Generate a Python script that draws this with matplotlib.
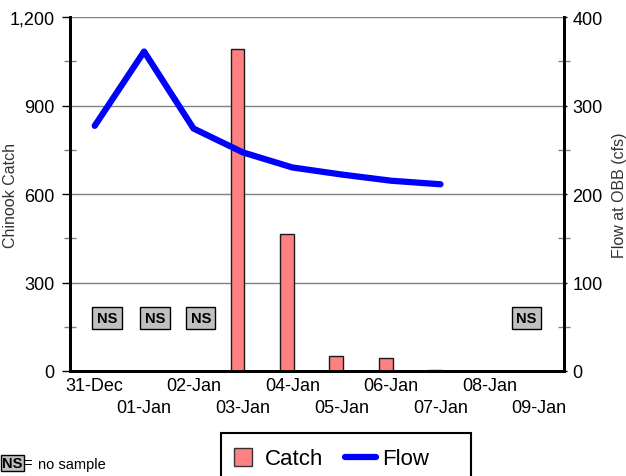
import matplotlib
matplotlib.use("Agg")
import matplotlib.pyplot as plt
import numpy as np
from matplotlib.lines import Line2D
from matplotlib.patches import Rectangle
from matplotlib.ticker import FuncFormatter, MultipleLocator, FixedLocator

plt.rcParams["font.family"] = ["Liberation Sans", "DejaVu Sans"]

## Data
dates = ["31-Dec", "01-Jan", "02-Jan", "03-Jan", "04-Jan",
         "05-Jan", "06-Jan", "07-Jan", "08-Jan", "09-Jan"]
catch = [np.nan, np.nan, np.nan, 1090, 465, 50, 43, 3, 0, np.nan]
flow = [277, 361, 274, 247, 230, 222, 215, 211, np.nan, np.nan]

# days with no sample, and a small nudge so the boxes sit where they do in the original
ns_days = [0, 1, 2, 9]
ns_nudge = [0.25, 0.22, 0.15, -0.26]

x = np.arange(len(dates))

fig = plt.figure(figsize=(6.26, 4.77), dpi=100)
ax = fig.add_axes([70 / 626, 1 - 372 / 477, 494 / 626, 354 / 477])
ax2 = ax.twinx()

# bars (catch)
ax.bar(x - 0.11, catch, width=0.28, color="#FF8080", edgecolor="#1a1a1a",
       linewidth=1, zorder=3)
ax.set_xlim(-0.5, len(dates) - 0.5)
ax.set_ylim(0, 1200)
ax.yaxis.set_major_locator(MultipleLocator(300))
ax.yaxis.set_minor_locator(MultipleLocator(150))
ax.yaxis.set_major_formatter(FuncFormatter(lambda v, p: f"{int(v):,}"))
ax.grid(axis="y", which="major", color="#808080", linewidth=1, zorder=0)
ax.set_axisbelow(True)

# staggered date labels: even days on the first row, odd days on the second
ax.xaxis.set_major_locator(FixedLocator(x[::2]))
ax.xaxis.set_minor_locator(FixedLocator(x[1::2]))
ax.set_xticklabels(dates[::2])
ax.set_xticklabels(dates[1::2], minor=True)
ax.tick_params(axis="x", which="major", length=0, pad=4, labelsize=13)
ax.tick_params(axis="x", which="minor", length=0, pad=20.5, labelsize=13)
ax.tick_params(axis="y", which="major", direction="out", length=6, width=1,
               labelsize=13, pad=5)
ax.tick_params(axis="y", which="minor", direction="inout", length=8, width=1,
               color="#808080")
ax.set_ylabel("Chinook Catch", fontsize=11.5, color="#333333")
ax.yaxis.set_label_coords(-0.105, 0.5)

# flow line
ax2.plot(x, flow, color="#0000FF", linewidth=4.5, solid_capstyle="round",
         solid_joinstyle="round", zorder=4)
ax2.set_ylim(0, 400)
ax2.yaxis.set_major_locator(MultipleLocator(100))
ax2.yaxis.set_minor_locator(MultipleLocator(50))
ax2.tick_params(axis="y", which="major", direction="out", length=2, width=1,
                labelsize=13, pad=4)
ax2.tick_params(axis="y", which="minor", direction="inout", length=8, width=1,
                color="#808080")
ax2.set_ylabel("Flow at OBB (cfs)", fontsize=11.5, color="#333333")
ax2.yaxis.set_label_coords(1.097, 0.5)

for a in (ax, ax2):
    a.spines["top"].set_visible(False)
    for s in ("left", "right", "bottom"):
        a.spines[s].set_linewidth(2)
        a.spines[s].set_color("black")

# NS boxes
for d, nudge in zip(ns_days, ns_nudge):
    ax.text(d + nudge, 180, "NS", fontsize=10.5, fontweight="bold",
            ha="center", va="center", zorder=5,
            bbox=dict(boxstyle="square,pad=0.3", facecolor="#C0C0C0",
                      edgecolor="black", linewidth=1))

# NS key at bottom left
fig.text(2 / 626, 1 - 464 / 477, "NS", fontsize=10.5, fontweight="bold",
         ha="left", va="center",
         bbox=dict(boxstyle="square,pad=0.1", facecolor="#C0C0C0",
                   edgecolor="black", linewidth=1))
fig.text(23 / 626, 1 - 464 / 477, "=", fontsize=10.5, ha="left", va="center")
fig.text(38 / 626, 1 - 465 / 477, "no sample", fontsize=10.5, ha="left",
         va="center")

# legend: frame drawn separately because the original has a wide right margin
fig.patches.append(Rectangle((221 / 626, -0.02), 250 / 626, (477 - 434) / 477 + 0.02,
                             transform=fig.transFigure, facecolor="white",
                             edgecolor="black", linewidth=1.5, zorder=1))
handles = [
    Line2D([], [], linestyle="none", marker="s", markersize=13,
           markerfacecolor="#FF8080", markeredgecolor="#333333"),
    Line2D([], [], color="#0000FF", linewidth=4.5, solid_capstyle="round"),
]
leg = fig.legend(handles, ["Catch", "Flow"], ncol=2, fontsize=16,
                 loc="center left", bbox_to_anchor=(227.5 / 626, 1 - 460 / 477),
                 frameon=False, handlelength=1.4, handletextpad=0.27,
                 columnspacing=1.0, borderpad=0, borderaxespad=0)
leg.set_zorder(2)

fig.savefig("out.png", dpi=100)
